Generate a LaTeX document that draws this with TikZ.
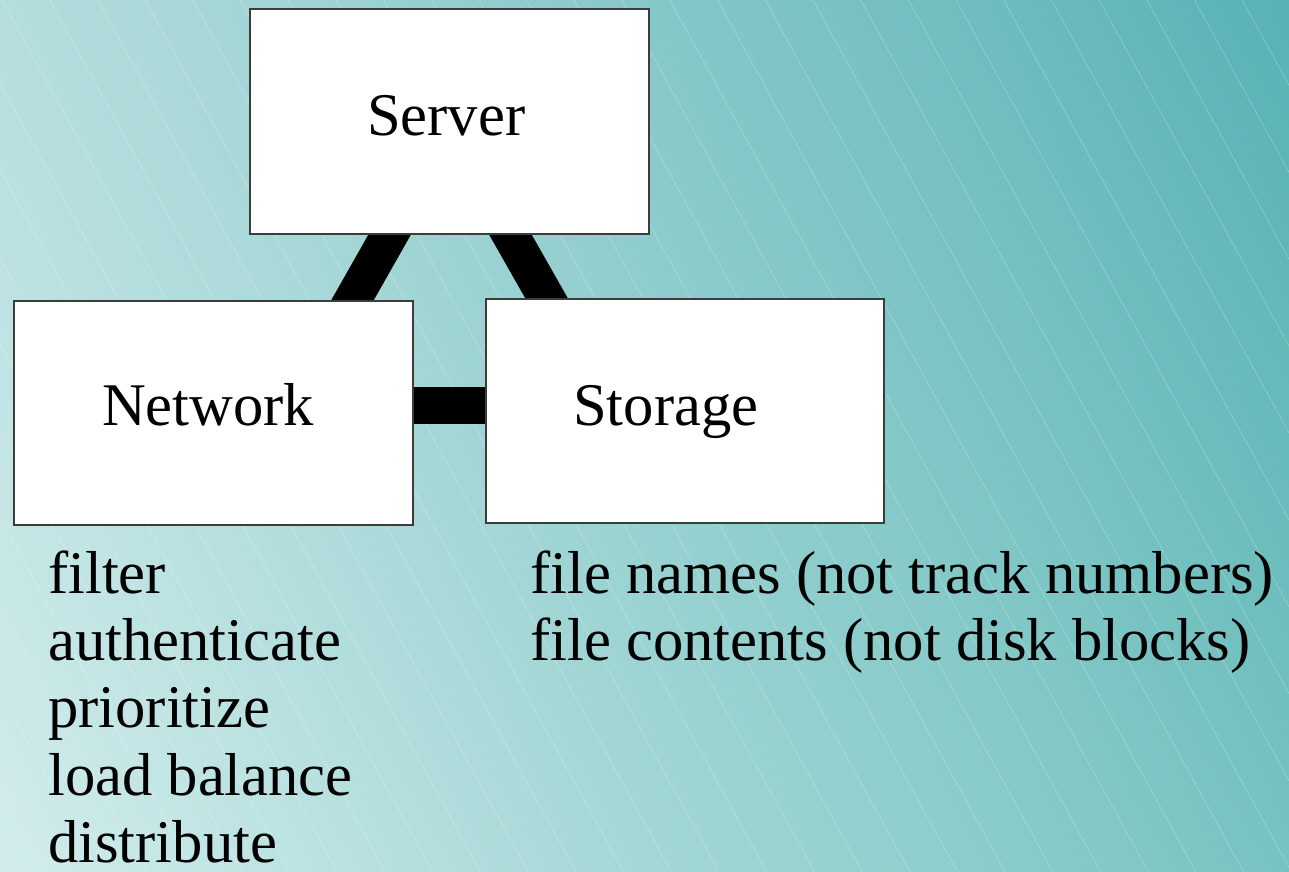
\documentclass[tikz,border=0pt]{standalone}
\usepackage{fontspec}
\setmainfont{Liberation Serif}
\usetikzlibrary{shadings}
\definecolor{bgLL}{RGB}{210,236,236}
\definecolor{bgUL}{RGB}{181,221,221}
\definecolor{bgUR}{RGB}{88,178,180}
\definecolor{bgLR}{RGB}{118,195,193}
\definecolor{boxline}{RGB}{60,60,60}
\tikzset{
  box/.style={draw=boxline, line width=1.2pt, fill=white, rectangle, inner sep=0pt},
  lbl/.style={anchor=base west, inner sep=0pt, font=\fontsize{60.6}{67}\selectfont},
  link/.style={line width=37pt, black},
  stripe/.style={white, opacity=0.3, line width=0.6pt}
}
\begin{document}
\begin{tikzpicture}[x=1pt, y=-1pt]
\useasboundingbox (0,0) rectangle (1289,871);
% background
\shade[lower left=bgLL, upper left=bgUL, upper right=bgUR, lower right=bgLR] (0,0) rectangle (1289,871);
\begin{scope}
  \clip (0,0) rectangle (1289,871);
  \foreach \k in {-11,...,27} {
    \pgfmathsetmacro{\xa}{2+47.7*\k}
    \pgfmathsetmacro{\xb}{\xa+478}
    \draw[stripe] (\xa,0) -- (\xb,871);
  }
\end{scope}
% connector end points (hidden inside boxes)
\coordinate (sn-a) at (409.3,200);
\coordinate (sn-b) at (329.9,340);
\coordinate (ss-a) at (490.7,200);
\coordinate (ss-b) at (570.3,340);
\coordinate (ns-a) at (380,405.5);
\coordinate (ns-b) at (520,405.5);
\draw[link] (sn-a) -- (sn-b);
\draw[link] (ss-a) -- (ss-b);
\draw[link] (ns-a) -- (ns-b);
% boxes
\node[box, minimum width=399pt, minimum height=225pt] (server) at (449.5,121.5) {};
\node[box, minimum width=399pt, minimum height=224pt] (network) at (213.5,413) {};
\node[box, minimum width=398pt, minimum height=224pt] (storage) at (685,411) {};
% box labels
\node[lbl] (serverlbl) at (367,135) {Server};
\node[lbl] (networklbl) at (102,425) {Network};
\node[lbl] (storagelbl) at (573,425) {Storage};
% lists
\node[lbl] (n1) at (48,593) {filter};
\node[lbl] (n2) at (48,660) {authenticate};
\node[lbl] (n3) at (48,727) {prioritize};
\node[lbl] (n4) at (48,795) {load balance};
\node[lbl] (n5) at (48,862) {distribute};
\node[lbl] (s1) at (530,593) {file names (not track numbers)};
\node[lbl] (s2) at (530,660) {file contents (not disk blocks)};
\end{tikzpicture}
\end{document}
